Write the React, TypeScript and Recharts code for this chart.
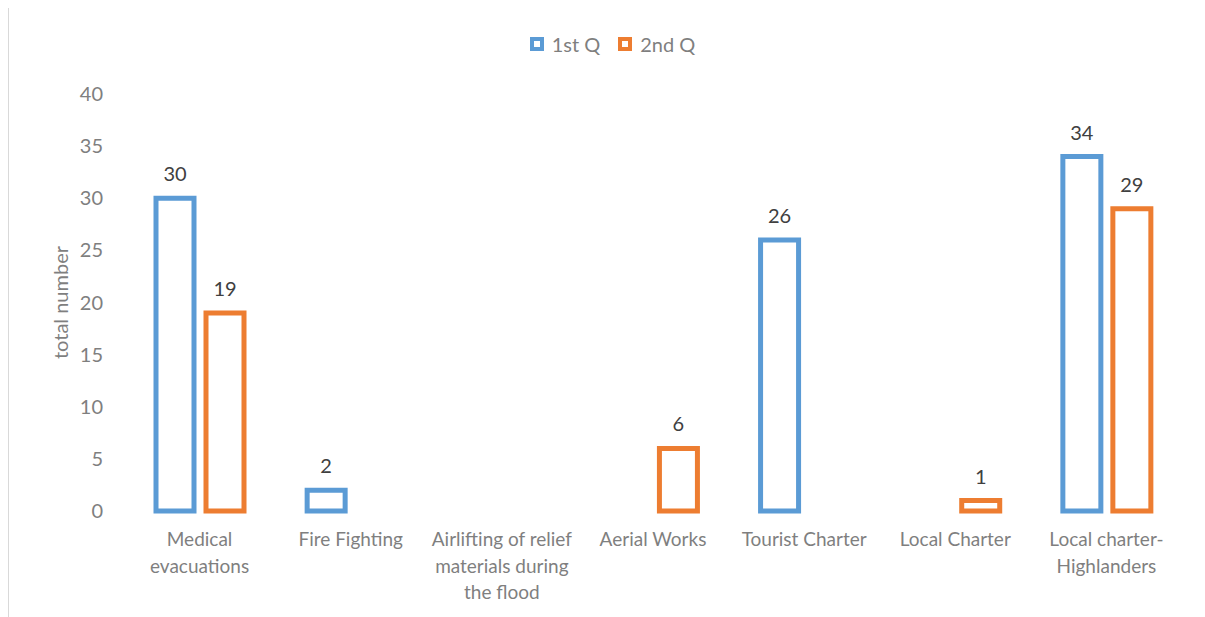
import React from 'react';
import { BarChart, Bar, XAxis, YAxis, LabelList } from 'recharts';

const categories = [
  'Medical evacuations',
  'Fire Fighting',
  'Airlifting of relief materials during the flood',
  'Aerial Works',
  'Tourist Charter',
  'Local Charter',
  'Local charter-Highlanders',
];
// how Excel wrapped each label
const tickLines = [
  ['Medical', 'evacuations'],
  ['Fire Fighting'],
  ['Airlifting of relief', 'materials during', 'the flood'],
  ['Aerial Works'],
  ['Tourist Charter'],
  ['Local Charter'],
  ['Local charter-', 'Highlanders'],
];
const firstQ = [30, 2, 0, 0, 26, 0, 34];
const secondQ = [19, 0, 0, 6, 0, 1, 29];
const yTicks = [0, 5, 10, 15, 20, 25, 30, 35, 40];

const BLUE = '#5B9BD5';
const ORANGE = '#ED7D31';
const FONT = 'Lato, Calibri, sans-serif';

const data = categories.map((c, i) => ({ category: c, q1: firstQ[i], q2: secondQ[i] }));

const CategoryTick = (props: any) => {
  const { x, y, payload } = props;
  const lines = tickLines[payload.index] || [payload.value];
  return (
    <text x={x} y={y} textAnchor="middle" fill="#7f7f7f" fontSize={19} fontFamily={FONT}>
      {lines.map((l, i) => (
        <tspan key={i} x={x} dy={i === 0 ? 33 : 26.5}>
          {l}
        </tspan>
      ))}
    </text>
  );
};

const ValueLabel = (props: any) => {
  const { x, y, width, value } = props;
  if (!value) return null;
  return (
    <text x={x + width / 2} y={y - 17} textAnchor="middle" fill="#404040" fontSize={20} fontFamily={FONT}>
      {value}
    </text>
  );
};

const LegendBox = () => (
  <div
    style={{
      position: 'absolute',
      top: 24,
      left: 0,
      width: 1197,
      display: 'flex',
      justifyContent: 'center',
      fontFamily: FONT,
      fontSize: 20,
      color: '#7f7f7f',
      paddingLeft: 12,
      boxSizing: 'border-box',
    }}
  >
    {[
      { name: '1st Q', color: BLUE },
      { name: '2nd Q', color: ORANGE },
    ].map((it) => (
      <div key={it.name} style={{ display: 'flex', alignItems: 'center', margin: '0 9px' }}>
        <span style={{ width: 6, height: 6, border: `4px solid ${it.color}`, background: '#fff', marginRight: 8 }} />
        <span>{it.name}</span>
      </div>
    ))}
  </div>
);

const YTitle = (props: any) => {
  const { viewBox } = props;
  const cy = viewBox.y + viewBox.height / 2;
  return (
    <text x={52} y={cy} transform={`rotate(-90 52 ${cy})`} textAnchor="middle" dominantBaseline="central" fill="#7f7f7f" fontSize={20} fontFamily={FONT}>
      total number
    </text>
  );
};

export default function App() {
  return (
    <div style={{ position: 'relative', width: 1197, height: 609 }}>
      <div
        style={{
          position: 'absolute',
          left: 0,
          top: -2,
          width: 1197,
          height: 611,
          borderTop: '1px solid #d9d9d9',
          borderLeft: '1px solid #d9d9d9',
          boxSizing: 'border-box',
        }}
      />
      <BarChart
        width={1197}
        height={609}
        data={data}
        margin={{ top: 86, right: 23, left: 36, bottom: 6 }}
        barCategoryGap="21%"
        barGap={12}
        barSize={38}
        style={{ position: 'absolute', left: 0, top: 0 }}
      >
        <XAxis dataKey="category" axisLine={false} tickLine={false} tickSize={0} tick={<CategoryTick />} height={100} interval={0} />
        <YAxis
          domain={[0, 40]}
          ticks={yTicks}
          axisLine={false}
          tickLine={false}
          tickSize={0}
          tickMargin={21}
          width={80}
          tick={{ fill: '#7f7f7f', fontSize: 20, fontFamily: FONT }}
          label={<YTitle />}
        />
        <Bar dataKey="q1" name="1st Q" fill="#fff" stroke={BLUE} strokeWidth={5} isAnimationActive={false}>
          <LabelList dataKey="q1" content={<ValueLabel />} />
        </Bar>
        <Bar dataKey="q2" name="2nd Q" fill="#fff" stroke={ORANGE} strokeWidth={5} isAnimationActive={false}>
          <LabelList dataKey="q2" content={<ValueLabel />} />
        </Bar>
      </BarChart>
      <LegendBox />
    </div>
  );
}
